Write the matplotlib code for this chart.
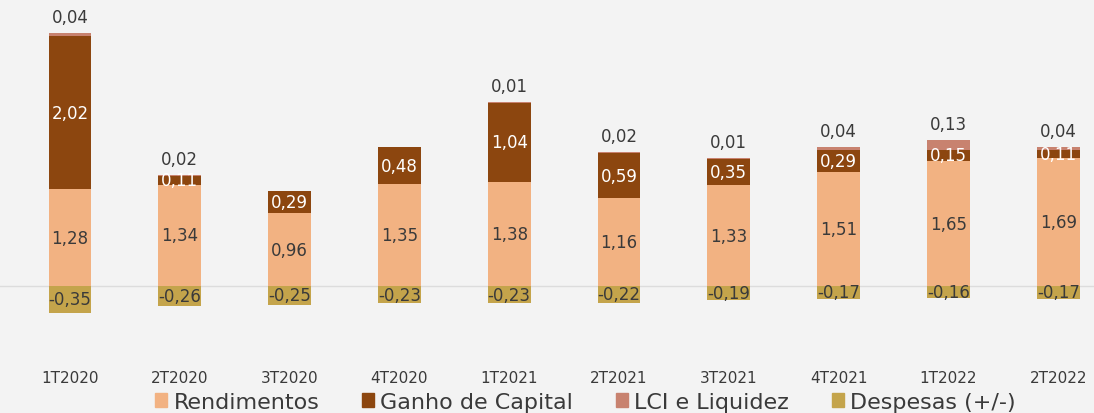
import matplotlib
matplotlib.use("Agg")
import matplotlib.pyplot as plt
from matplotlib.patches import Patch

categories = ["1T2020", "2T2020", "3T2020", "4T2020", "1T2021",
              "2T2021", "3T2021", "4T2021", "1T2022", "2T2022"]
rendimentos = [1.28, 1.34, 0.96, 1.35, 1.38, 1.16, 1.33, 1.51, 1.65, 1.69]
ganho_capital = [2.02, 0.11, 0.29, 0.48, 1.04, 0.59, 0.35, 0.29, 0.15, 0.11]
lci_liquidez = [0.04, 0.02, 0.0, 0.0, 0.01, 0.02, 0.01, 0.04, 0.13, 0.04]
despesas = [-0.35, -0.26, -0.25, -0.23, -0.23, -0.22, -0.19, -0.17, -0.16, -0.17]
series_names = ["Rendimentos", "Ganho de Capital", "LCI e Liquidez", "Despesas (+/-)"]

c_rend = "#F2B282"
c_ganho = "#8C460F"
c_lci = "#C8826F"
c_desp = "#C4A44B"
bg = "#F3F3F3"
txt = "#3A3A3A"

plt.rcParams['font.family'] = ['DejaVu Sans']
fig = plt.figure(figsize=(10.94, 4.14), dpi=100, facecolor=bg)
ax = fig.add_axes([0, 0.111, 1, 0.889])
ax.set_facecolor(bg)

x = list(range(len(categories)))
w = 0.39
fmt = lambda v: f"{v:.2f}".replace('.', ',')
fs = 12

ax.bar(x, rendimentos, w, color=c_rend, zorder=2)
ax.bar(x, ganho_capital, w, bottom=rendimentos, color=c_ganho, zorder=2)
bot3 = [r + g for r, g in zip(rendimentos, ganho_capital)]
ax.bar(x, lci_liquidez, w, bottom=bot3, color=c_lci, zorder=2)
ax.bar(x, despesas, w, color=c_desp, zorder=2)

ax.axhline(0, color="#DCDCDC", lw=1, zorder=1)

for i in x:
    ax.text(i, rendimentos[i] / 2, fmt(rendimentos[i]), ha='center', va='center',
            color=txt, fontsize=fs, zorder=3)
    ax.text(i, rendimentos[i] + ganho_capital[i] / 2, fmt(ganho_capital[i]),
            ha='center', va='center', color='white', fontsize=fs, zorder=3)
    if lci_liquidez[i] > 0:
        top = bot3[i] + lci_liquidez[i]
        ax.annotate(fmt(lci_liquidez[i]), (i, top), xytext=(0, 5),
                    textcoords='offset points', ha='center', va='bottom',
                    color=txt, fontsize=fs, zorder=3)
    ax.text(i, despesas[i] / 2, fmt(despesas[i]), ha='center', va='center',
            color=txt, fontsize=fs, zorder=3)

ax.set_xlim(-0.6375, 9.326)
ax.set_ylim(-1.07, 3.79)
ax.set_xticks(x)
ax.set_xticklabels(categories, fontsize=11, color=txt)
ax.tick_params(axis='x', length=0, pad=2)
ax.set_yticks([])
for s in ax.spines.values():
    s.set_visible(False)

handles = [Patch(color=c) for c in (c_rend, c_ganho, c_lci, c_desp)]
fig.legend(handles, series_names, loc='center', bbox_to_anchor=(0.535, 0.027),
           ncol=4, frameon=False, fontsize=16, handlelength=0.55, handleheight=0.55,
           handletextpad=0.3, columnspacing=1.9, labelcolor=txt)

fig.savefig("out.png", dpi=100, facecolor=bg)
